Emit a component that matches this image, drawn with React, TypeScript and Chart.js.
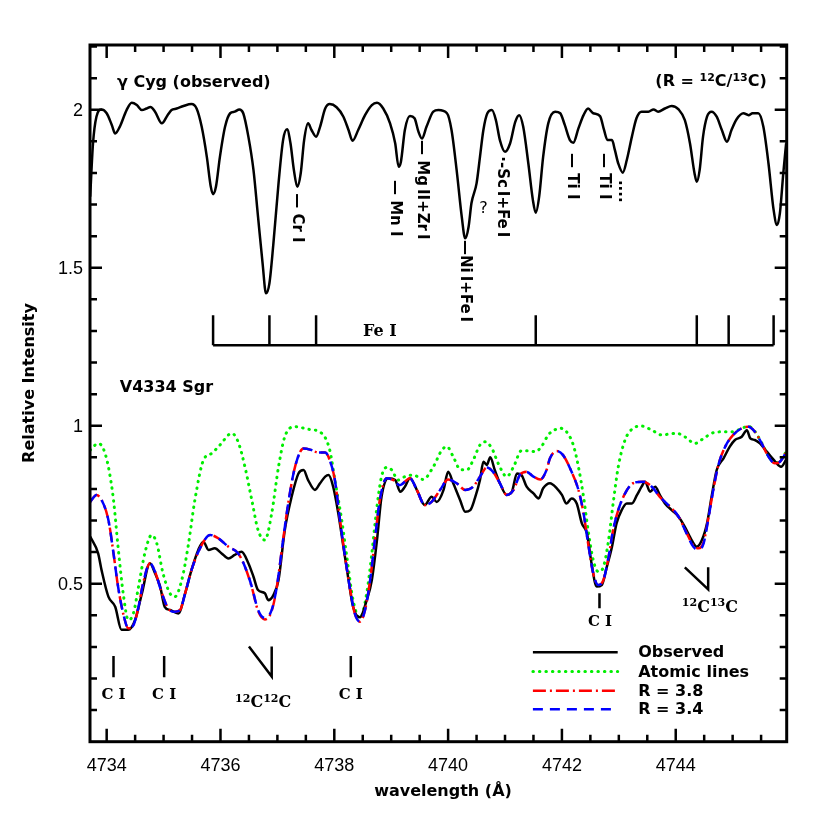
import React, { useEffect, useRef } from "react";
import { Chart, registerables } from "chart.js";

Chart.register(...registerables);

// ---------- gamma Cyg (observed), upper spectrum ----------
const gcygWave = [
  4733.71, 4733.76, 4733.82, 4733.91, 4734.0, 4734.09, 4734.15, 4734.23, 4734.35, 4734.44,
  4734.53, 4734.62, 4734.7, 4734.77, 4734.85, 4734.97, 4735.07, 4735.14, 4735.23, 4735.35,
  4735.49, 4735.58, 4735.67, 4735.76, 4735.83, 4735.87, 4735.92, 4735.99, 4736.08, 4736.17,
  4736.25, 4736.33, 4736.4, 4736.49, 4736.58, 4736.66, 4736.74, 4736.8, 4736.86, 4736.93,
  4737.02, 4737.1, 4737.17, 4737.23, 4737.29, 4737.35, 4737.41, 4737.47, 4737.54, 4737.6,
  4737.68, 4737.75, 4737.84, 4737.92, 4738.04, 4738.16, 4738.25, 4738.32, 4738.42, 4738.54,
  4738.66, 4738.75, 4738.86, 4738.98, 4739.07, 4739.13, 4739.17, 4739.24, 4739.33, 4739.41,
  4739.48, 4739.54, 4739.62, 4739.74, 4739.83, 4739.98, 4740.06, 4740.15, 4740.24, 4740.3,
  4740.36, 4740.41, 4740.5, 4740.56, 4740.62, 4740.69, 4740.77, 4740.84, 4740.91, 4741.0,
  4741.09, 4741.18, 4741.25, 4741.32, 4741.41, 4741.49, 4741.54, 4741.6, 4741.67, 4741.76,
  4741.88, 4741.97, 4742.05, 4742.14, 4742.2, 4742.29, 4742.38, 4742.46, 4742.55, 4742.67,
  4742.74, 4742.8, 4742.88, 4742.93, 4742.99, 4743.07, 4743.14, 4743.23, 4743.31, 4743.4,
  4743.52, 4743.61, 4743.69, 4743.81, 4743.93, 4744.05, 4744.16, 4744.25, 4744.33, 4744.37,
  4744.42, 4744.48, 4744.55, 4744.63, 4744.72, 4744.81, 4744.9, 4744.98, 4745.07, 4745.19,
  4745.28, 4745.35, 4745.45, 4745.54, 4745.63, 4745.72, 4745.78, 4745.83, 4745.89, 4745.94,
];
const gcygFlux = [
  1.725, 1.894, 1.978, 2.001, 1.989, 1.952, 1.925, 1.946, 1.999, 2.022,
  2.015, 1.999, 2.004, 2.009, 1.994, 1.957, 1.983, 1.999, 2.004, 2.012,
  2.018, 2.004, 1.946, 1.851, 1.756, 1.733, 1.756, 1.851, 1.946, 1.989,
  1.994, 2.001, 1.989, 1.915, 1.809, 1.661, 1.514, 1.419, 1.451, 1.577,
  1.767, 1.904, 1.938, 1.894, 1.809, 1.756, 1.799, 1.904, 1.957, 1.936,
  1.915, 1.946, 2.004, 2.018, 2.008, 1.978, 1.936, 1.902, 1.936, 1.983,
  2.015, 2.022, 2.004, 1.957, 1.894, 1.82, 1.835, 1.936, 1.98, 1.973,
  1.93, 1.909, 1.946, 1.994, 1.999, 1.989, 1.936, 1.809, 1.661, 1.593,
  1.63, 1.704, 1.767, 1.851, 1.936, 1.989, 1.999, 1.967, 1.904, 1.867,
  1.894, 1.962, 1.983, 1.946, 1.83, 1.714, 1.674, 1.725, 1.851, 1.957,
  1.994, 1.989, 1.952, 1.904, 1.896, 1.941, 1.983, 2.004, 1.989, 1.98,
  1.936, 1.904, 1.904, 1.873, 1.83, 1.801, 1.841, 1.915, 1.973, 1.994,
  1.994, 2.001, 1.994, 2.004, 2.012, 2.001, 1.967, 1.894, 1.799, 1.772,
  1.809, 1.915, 1.978, 1.994, 1.978, 1.936, 1.899, 1.936, 1.97, 1.989,
  1.983, 1.989, 1.989, 1.946, 1.83, 1.683, 1.635, 1.672, 1.799, 1.894,
];

// ---------- V4334 Sgr observed ----------
const obsWave = [
  4733.71, 4733.85, 4733.91, 4734.03, 4734.15, 4734.26, 4734.38, 4734.5, 4734.62, 4734.76,
  4734.85, 4734.94, 4735.02, 4735.11, 4735.26, 4735.38, 4735.49, 4735.61, 4735.7, 4735.79,
  4735.9, 4736.02, 4736.14, 4736.25, 4736.37, 4736.49, 4736.58, 4736.66, 4736.78, 4736.84,
  4736.93, 4737.02, 4737.13, 4737.25, 4737.37, 4737.46, 4737.54, 4737.66, 4737.75, 4737.84,
  4737.9, 4737.98, 4738.07, 4738.16, 4738.25, 4738.33, 4738.45, 4738.57, 4738.66, 4738.75,
  4738.83, 4738.95, 4739.07, 4739.16, 4739.24, 4739.33, 4739.45, 4739.59, 4739.71, 4739.8,
  4739.92, 4740.0, 4740.09, 4740.21, 4740.3, 4740.39, 4740.47, 4740.56, 4740.62, 4740.68,
  4740.74, 4740.82, 4740.91, 4741.03, 4741.12, 4741.21, 4741.29, 4741.38, 4741.5, 4741.59,
  4741.67, 4741.79, 4741.91, 4742.0, 4742.08, 4742.17, 4742.26, 4742.35, 4742.44, 4742.52,
  4742.61, 4742.7, 4742.79, 4742.88, 4742.96, 4743.05, 4743.14, 4743.23, 4743.32, 4743.4,
  4743.46, 4743.55, 4743.64, 4743.72, 4743.81, 4743.93, 4744.05, 4744.16, 4744.28, 4744.37,
  4744.46, 4744.55, 4744.63, 4744.72, 4744.84, 4744.95, 4745.04, 4745.16, 4745.25, 4745.31,
  4745.39, 4745.48, 4745.6, 4745.75, 4745.85, 4745.96,
];
const obsFlux = [
  0.649, 0.596, 0.543, 0.459, 0.427, 0.354, 0.354, 0.385, 0.47, 0.565,
  0.533, 0.491, 0.427, 0.417, 0.406, 0.47, 0.543, 0.607, 0.633, 0.607,
  0.612, 0.596, 0.58, 0.591, 0.601, 0.565, 0.522, 0.48, 0.47, 0.448,
  0.464, 0.512, 0.67, 0.775, 0.849, 0.86, 0.828, 0.797, 0.818, 0.839,
  0.844, 0.807, 0.723, 0.617, 0.512, 0.427, 0.394, 0.448, 0.512, 0.638,
  0.775, 0.834, 0.828, 0.791, 0.807, 0.834, 0.797, 0.749, 0.775, 0.759,
  0.797, 0.854, 0.818, 0.765, 0.728, 0.733, 0.77, 0.828, 0.886, 0.876,
  0.9, 0.86, 0.818, 0.781, 0.791, 0.849, 0.844, 0.807, 0.786, 0.77,
  0.802, 0.818, 0.802, 0.781, 0.754, 0.77, 0.754, 0.691, 0.659, 0.565,
  0.491, 0.496, 0.554, 0.617, 0.691, 0.733, 0.754, 0.754, 0.781, 0.807,
  0.823, 0.791, 0.807, 0.781, 0.754, 0.733, 0.712, 0.68, 0.638, 0.617,
  0.638, 0.691, 0.775, 0.86, 0.897, 0.934, 0.955, 0.965, 0.986, 0.96,
  0.955, 0.944, 0.918, 0.886, 0.87, 0.9,
];

// ---------- synthetic spectra (R = 3.8 and R = 3.4) ----------
const modelWave = [
  4733.71, 4733.82, 4733.91, 4734.03, 4734.12, 4734.2, 4734.29, 4734.38, 4734.47, 4734.56,
  4734.64, 4734.76, 4734.85, 4734.97, 4735.08, 4735.2, 4735.29, 4735.38, 4735.49, 4735.64,
  4735.82, 4735.96, 4736.14, 4736.31, 4736.43, 4736.55, 4736.66, 4736.78, 4736.9, 4736.99,
  4737.1, 4737.19, 4737.31, 4737.46, 4737.6, 4737.72, 4737.84, 4737.92, 4738.01, 4738.1,
  4738.19, 4738.28, 4738.36, 4738.45, 4738.54, 4738.63, 4738.72, 4738.8, 4738.92, 4739.04,
  4739.15, 4739.33, 4739.45, 4739.59, 4739.71, 4739.86, 4740.0, 4740.15, 4740.3, 4740.44,
  4740.56, 4740.68, 4740.79, 4740.91, 4741.03, 4741.15, 4741.26, 4741.38, 4741.5, 4741.62,
  4741.73, 4741.79, 4741.91, 4742.02, 4742.17, 4742.29, 4742.38, 4742.46, 4742.55, 4742.64,
  4742.73, 4742.82, 4742.9, 4742.99, 4743.11, 4743.25, 4743.43, 4743.58, 4743.72, 4743.87,
  4744.05, 4744.19, 4744.31, 4744.4, 4744.49, 4744.57, 4744.66, 4744.75, 4744.87, 4745.01,
  4745.16, 4745.28, 4745.39, 4745.51, 4745.63, 4745.74, 4745.83, 4745.95,
];
const r38Flux = [
  0.759, 0.781, 0.765, 0.702, 0.596, 0.491, 0.406, 0.359, 0.369, 0.427,
  0.501, 0.565, 0.538, 0.47, 0.422, 0.411, 0.417, 0.47, 0.543, 0.612,
  0.654, 0.644, 0.617, 0.596, 0.554, 0.489, 0.414, 0.387, 0.414, 0.49,
  0.638, 0.754, 0.87, 0.928, 0.923, 0.915, 0.915, 0.891, 0.828, 0.702,
  0.585, 0.48, 0.406, 0.38, 0.417, 0.512, 0.649, 0.765, 0.834, 0.828,
  0.812, 0.834, 0.797, 0.749, 0.759, 0.797, 0.83, 0.818, 0.797, 0.807,
  0.839, 0.868, 0.854, 0.818, 0.781, 0.797, 0.844, 0.854, 0.839, 0.83,
  0.86, 0.897, 0.92, 0.907, 0.854, 0.797, 0.723, 0.628, 0.533, 0.496,
  0.512, 0.585, 0.67, 0.733, 0.786, 0.818, 0.823, 0.807, 0.775, 0.749,
  0.712, 0.661, 0.621, 0.612, 0.632, 0.704, 0.797, 0.876, 0.934, 0.971,
  0.992, 0.997, 0.981, 0.944, 0.902, 0.881, 0.886, 0.918,
];
const r34Flux = [
  0.759, 0.781, 0.765, 0.702, 0.596, 0.491, 0.406, 0.359, 0.369, 0.427,
  0.501, 0.565, 0.538, 0.47, 0.422, 0.411, 0.417, 0.47, 0.543, 0.612,
  0.654, 0.644, 0.617, 0.596, 0.554, 0.491, 0.417, 0.391, 0.417, 0.491,
  0.638, 0.754, 0.87, 0.928, 0.923, 0.915, 0.915, 0.891, 0.828, 0.702,
  0.585, 0.48, 0.406, 0.38, 0.417, 0.512, 0.649, 0.765, 0.834, 0.828,
  0.812, 0.834, 0.797, 0.749, 0.759, 0.797, 0.83, 0.818, 0.797, 0.807,
  0.839, 0.868, 0.854, 0.818, 0.781, 0.797, 0.844, 0.854, 0.839, 0.83,
  0.86, 0.897, 0.92, 0.907, 0.854, 0.797, 0.723, 0.628, 0.533, 0.496,
  0.512, 0.585, 0.67, 0.733, 0.786, 0.818, 0.823, 0.807, 0.775, 0.749,
  0.712, 0.659, 0.617, 0.607, 0.628, 0.702, 0.797, 0.876, 0.934, 0.971,
  0.992, 0.997, 0.981, 0.944, 0.902, 0.881, 0.886, 0.918,
];

// ---------- atomic lines only ----------
const atomWave = [
  4733.71, 4733.85, 4733.94, 4734.03, 4734.12, 4734.2, 4734.29, 4734.38, 4734.47, 4734.56,
  4734.67, 4734.79, 4734.88, 4734.99, 4735.11, 4735.2, 4735.32, 4735.43, 4735.55, 4735.7,
  4735.85, 4735.99, 4736.2, 4736.31, 4736.43, 4736.55, 4736.66, 4736.78, 4736.9, 4737.02,
  4737.13, 4737.31, 4737.54, 4737.78, 4737.92, 4738.01, 4738.13, 4738.22, 4738.33, 4738.45,
  4738.57, 4738.66, 4738.75, 4738.83, 4738.92, 4739.01, 4739.12, 4739.24, 4739.39, 4739.56,
  4739.74, 4739.89, 4739.98, 4740.09, 4740.21, 4740.33, 4740.44, 4740.56, 4740.65, 4740.77,
  4740.88, 4741.03, 4741.15, 4741.29, 4741.41, 4741.53, 4741.64, 4741.76, 4741.82, 4741.97,
  4742.08, 4742.2, 4742.29, 4742.38, 4742.46, 4742.55, 4742.64, 4742.73, 4742.82, 4742.9,
  4742.99, 4743.11, 4743.25, 4743.4, 4743.58, 4743.75, 4743.9, 4744.02, 4744.16, 4744.34,
  4744.49, 4744.66, 4744.87, 4745.01, 4745.16, 4745.28, 4745.39, 4745.51, 4745.63, 4745.74,
  4745.83, 4745.95,
];
const atomFlux = [
  0.923, 0.944, 0.928, 0.87, 0.765, 0.617, 0.47, 0.385, 0.406, 0.491,
  0.596, 0.654, 0.628, 0.533, 0.47, 0.459, 0.512, 0.617, 0.765, 0.891,
  0.913, 0.939, 0.976, 0.949, 0.87, 0.765, 0.67, 0.638, 0.723, 0.87,
  0.965, 0.997, 0.989, 0.976, 0.923, 0.828, 0.702, 0.585, 0.448, 0.391,
  0.47, 0.596, 0.744, 0.839, 0.868, 0.86, 0.828, 0.839, 0.844, 0.83,
  0.87, 0.923, 0.934, 0.902, 0.862, 0.86, 0.891, 0.939, 0.949, 0.928,
  0.881, 0.839, 0.87, 0.921, 0.921, 0.918, 0.934, 0.971, 0.981, 0.992,
  0.981, 0.939, 0.87, 0.775, 0.67, 0.575, 0.538, 0.554, 0.638, 0.754,
  0.87, 0.955, 0.992, 0.999, 0.986, 0.971, 0.974, 0.976, 0.965, 0.944,
  0.96, 0.978, 0.981, 0.981, 0.992, 0.998, 0.982, 0.946, 0.904, 0.883,
  0.888, 0.92,
];

// ---------- axes ----------
const xMin = 4733.707;
const xMax = 4745.95;
const yMin = 0;
const yMax = 2.205;
const xTickValues = [4734, 4736, 4738, 4740, 4742, 4744];
const xTickLabels = ["4734", "4736", "4738", "4740", "4742", "4744"];
const yTickValues = [0.5, 1, 1.5, 2];
const yTickLabels = ["0.5", "1", "1.5", "2"];

// ---------- line identifications ----------
const feIWave = [4735.87, 4736.86, 4737.68, 4741.54, 4744.37, 4744.93, 4745.72];
const feIBarLevel = 1.255;
const feITickTop = 1.35;

const topIdText = ["— Cr I", "— Mn I", "— Mg\u2009II+Zr\u2009I", "—Ni\u2009I+Fe\u2009I", "·-Sc\u2009I+Fe\u2009I", "— Ti I", "— Ti I", "...."];
const topIdWave = [4737.34, 4739.07, 4739.54, 4740.3, 4740.94, 4742.17, 4742.73, 4743.08];
const topIdLevel = [1.736, 1.778, 1.904, 1.588, 1.853, 1.863, 1.863, 1.778];

const cIWave = [4734.12, 4735.01, 4738.29];

const FONT_SANS = "'DejaVu Sans', sans-serif";
const FONT_SERIF = "'DejaVu Serif', serif";
const FONT_TICK = "'Liberation Sans', Arial, sans-serif";

type Part = { t: string; sup?: boolean };

function drawRich(
  ctx: CanvasRenderingContext2D,
  parts: Part[],
  x: number,
  y: number,
  align: "left" | "center" | "right",
  size: number,
  family: string
) {
  const supSize = Math.round(size * 0.68);
  const widths = parts.map((p) => {
    ctx.font = `bold ${p.sup ? supSize : size}px ${family}`;
    return ctx.measureText(p.t).width;
  });
  const total = widths.reduce((a, b) => a + b, 0);
  let cx = align === "center" ? x - total / 2 : align === "right" ? x - total : x;
  ctx.textAlign = "left";
  ctx.textBaseline = "middle";
  parts.forEach((p, i) => {
    ctx.font = `bold ${p.sup ? supSize : size}px ${family}`;
    ctx.fillText(p.t, cx, p.sup ? y - size * 0.28 : y);
    cx += widths[i];
  });
}

const decorPlugin = {
  id: "decor",
  afterDraw(chart: any) {
    const ctx: CanvasRenderingContext2D = chart.ctx;
    const a = chart.chartArea;
    const xs = chart.scales.x;
    const ys = chart.scales.y;
    const X = (v: number) => xs.getPixelForValue(v);
    const Y = (v: number) => ys.getPixelForValue(v);

    ctx.save();
    ctx.fillStyle = "#000";
    ctx.strokeStyle = "#000";
    ctx.setLineDash([]);
    ctx.lineCap = "butt";

    // frame
    ctx.lineWidth = 3;
    ctx.strokeRect(a.left, a.top, a.right - a.left, a.bottom - a.top);

    // ticks (inward, all four sides)
    ctx.lineWidth = 2.5;
    for (let k = 0; ; k++) {
      const v = 4734 + 0.5 * k;
      if (v > xMax) break;
      const major = k % 4 === 0;
      const len = major ? 13 : 7;
      const px = X(v);
      ctx.beginPath();
      ctx.moveTo(px, a.bottom);
      ctx.lineTo(px, a.bottom - len);
      ctx.moveTo(px, a.top);
      ctx.lineTo(px, a.top + len);
      ctx.stroke();
    }
    for (let k = 1; k <= 22; k++) {
      const v = k * 0.1;
      if (v > yMax) break;
      const major = k % 5 === 0;
      const len = major ? 12 : 7;
      const py = Y(v);
      ctx.beginPath();
      ctx.moveTo(a.left, py);
      ctx.lineTo(a.left + len, py);
      ctx.moveTo(a.right, py);
      ctx.lineTo(a.right - len, py);
      ctx.stroke();
    }

    // tick labels
    ctx.font = `18px ${FONT_TICK}`;
    ctx.textAlign = "center";
    ctx.textBaseline = "middle";
    xTickValues.forEach((v, i) => ctx.fillText(xTickLabels[i], X(v), a.bottom + 24));
    ctx.textAlign = "right";
    yTickValues.forEach((v, i) => ctx.fillText(yTickLabels[i], a.left - 7, Y(v) + 1));

    // axis titles
    ctx.font = `bold 16px ${FONT_SANS}`;
    ctx.textAlign = "center";
    ctx.fillText("wavelength (Å)", 443, 792);
    ctx.save();
    ctx.translate(30, 383);
    ctx.rotate(-Math.PI / 2);
    ctx.font = `bold 16px ${FONT_SANS}`;
    ctx.fillText("Relative Intensity", 0, 0);
    ctx.restore();

    // panel titles
    ctx.font = `bold 16px ${FONT_SANS}`;
    ctx.textAlign = "left";
    ctx.fillText("γ Cyg (observed)", X(4734.18), Y(2.084));
    drawRich(
      ctx,
      [{ t: "(R = " }, { t: "12", sup: true }, { t: "C/" }, { t: "13", sup: true }, { t: "C)" }],
      X(4745.6),
      Y(2.087),
      "right",
      16,
      FONT_SANS
    );
    ctx.font = `bold 16px ${FONT_SANS}`;
    ctx.textAlign = "left";
    ctx.fillText("V4334 Sgr", X(4734.23), Y(1.119));

    // Fe I bar
    ctx.lineWidth = 2.5;
    ctx.beginPath();
    ctx.moveTo(X(feIWave[0]), Y(feIBarLevel));
    ctx.lineTo(X(feIWave[feIWave.length - 1]), Y(feIBarLevel));
    feIWave.forEach((w) => {
      ctx.moveTo(X(w), Y(feIBarLevel));
      ctx.lineTo(X(w), Y(feITickTop));
    });
    ctx.stroke();
    ctx.font = `bold 16px ${FONT_SERIF}`;
    ctx.textAlign = "center";
    ctx.fillText("Fe I", X(4738.8), Y(1.298));

    // rotated identifications in gamma Cyg
    ctx.font = `bold 15px ${FONT_SANS}`;
    topIdText.forEach((t, i) => {
      ctx.save();
      ctx.translate(X(topIdWave[i]), Y(topIdLevel[i]));
      ctx.rotate(Math.PI / 2);
      ctx.textAlign = "left";
      ctx.textBaseline = "middle";
      ctx.fillText(t, 0, 0);
      ctx.restore();
    });
    ctx.font = `16px ${FONT_SANS}`;
    ctx.textAlign = "center";
    ctx.textBaseline = "middle";
    ctx.fillText("?", X(4740.62), Y(1.687));

    // C I and C2 marks in V4334 Sgr panel
    ctx.lineWidth = 2.5;
    ctx.beginPath();
    cIWave.forEach((w) => {
      ctx.moveTo(X(w), Y(0.271));
      ctx.lineTo(X(w), Y(0.204));
    });
    ctx.moveTo(X(4742.66), Y(0.47));
    ctx.lineTo(X(4742.66), Y(0.422));
    // 12C12C mark
    ctx.moveTo(X(4736.5), Y(0.301));
    ctx.lineTo(X(4736.9), Y(0.206));
    ctx.lineTo(X(4736.9), Y(0.301));
    // 12C13C mark
    ctx.moveTo(X(4744.16), Y(0.552));
    ctx.lineTo(X(4744.57), Y(0.482));
    ctx.lineTo(X(4744.57), Y(0.552));
    ctx.stroke();

    ctx.font = `bold 15px ${FONT_SERIF}`;
    ctx.textAlign = "center";
    cIWave.forEach((w) => ctx.fillText("C I", X(w), Y(0.148)));
    ctx.fillText("C I", X(4742.67), Y(0.38));
    drawRich(ctx, [{ t: "12", sup: true }, { t: "C" }, { t: "12", sup: true }, { t: "C" }], X(4736.75), Y(0.122), "center", 16, FONT_SERIF);
    drawRich(ctx, [{ t: "12", sup: true }, { t: "C" }, { t: "13", sup: true }, { t: "C" }], X(4744.6), Y(0.423), "center", 16, FONT_SERIF);

    // legend
    const legendText = ["Observed", "Atomic lines", "R = 3.8", "R = 3.4"];
    const legendLevel = [0.283, 0.222, 0.161, 0.103];
    const legendColor = ["#000000", "#00ee00", "#ff0000", "#0000ff"];
    const legendDash = [[], [0.5, 6], [13, 4, 2, 4], [10, 7]];
    const legendCap: CanvasLineCap[] = ["butt", "round", "butt", "butt"];
    const lx0 = X(4741.49);
    const lx1 = X(4742.98);
    legendText.forEach((t, i) => {
      const py = Y(legendLevel[i]);
      ctx.strokeStyle = legendColor[i];
      ctx.lineWidth = i === 1 ? 3 : 2.5;
      ctx.lineCap = legendCap[i];
      ctx.setLineDash(legendDash[i]);
      ctx.beginPath();
      ctx.moveTo(lx0, py);
      ctx.lineTo(lx1, py);
      ctx.stroke();
      ctx.setLineDash([]);
      ctx.fillStyle = "#000";
      ctx.font = `bold 16px ${FONT_SANS}`;
      ctx.textAlign = "left";
      ctx.textBaseline = "middle";
      ctx.fillText(t, X(4743.34), py + 1);
    });

    ctx.restore();
  },
};

function pts(xs: number[], ys: number[]) {
  return xs.map((x, i) => ({ x, y: ys[i] }));
}

export default function App() {
  const ref = useRef<HTMLCanvasElement | null>(null);

  useEffect(() => {
    document.body.style.margin = "0";
    const canvas = ref.current;
    if (!canvas) return;
    const common = {
      pointRadius: 0,
      showLine: true,
      fill: false,
      cubicInterpolationMode: "monotone" as const,
    };
    const chart = new Chart(canvas, {
      type: "scatter",
      data: {
        datasets: [
          { ...common, label: "R = 3.4", data: pts(modelWave, r34Flux), borderColor: "#0000ff", borderWidth: 2.5, borderDash: [10, 7], order: 0 },
          { ...common, label: "R = 3.8", data: pts(modelWave, r38Flux), borderColor: "#ff0000", borderWidth: 2.5, borderDash: [13, 4, 2, 4], order: 1 },
          { ...common, label: "Observed", data: pts(obsWave, obsFlux), borderColor: "#000000", borderWidth: 2.5, order: 2 },
          { ...common, label: "Atomic lines", data: pts(atomWave, atomFlux), borderColor: "#00ee00", borderWidth: 3, borderDash: [0.5, 6], borderCapStyle: "round", order: 3 },
          { ...common, label: "γ Cyg (observed)", data: pts(gcygWave, gcygFlux), borderColor: "#000000", borderWidth: 2.5, order: 4 },
        ] as any,
      },
      options: {
        animation: false,
        responsive: false,
        maintainAspectRatio: false,
        devicePixelRatio: 1,
        layout: { padding: { top: 45, right: 43.3, bottom: 0, left: 0 } },
        plugins: { legend: { display: false }, tooltip: { enabled: false } },
        scales: {
          x: {
            type: "linear",
            min: xMin,
            max: xMax,
            grid: { display: false, drawTicks: false },
            border: { display: false },
            ticks: { display: false },
            afterFit: (s: any) => {
              s.height = 88.3;
            },
          },
          y: {
            type: "linear",
            min: yMin,
            max: yMax,
            grid: { display: false, drawTicks: false },
            border: { display: false },
            ticks: { display: false },
            afterFit: (s: any) => {
              s.width = 90;
            },
          },
        },
      } as any,
      plugins: [decorPlugin],
    });
    return () => chart.destroy();
  }, []);

  return (
    <div style={{ width: 830, height: 830, background: "#fff" }}>
      <canvas ref={ref} width={830} height={830} style={{ display: "block", width: 830, height: 830 }} />
    </div>
  );
}
